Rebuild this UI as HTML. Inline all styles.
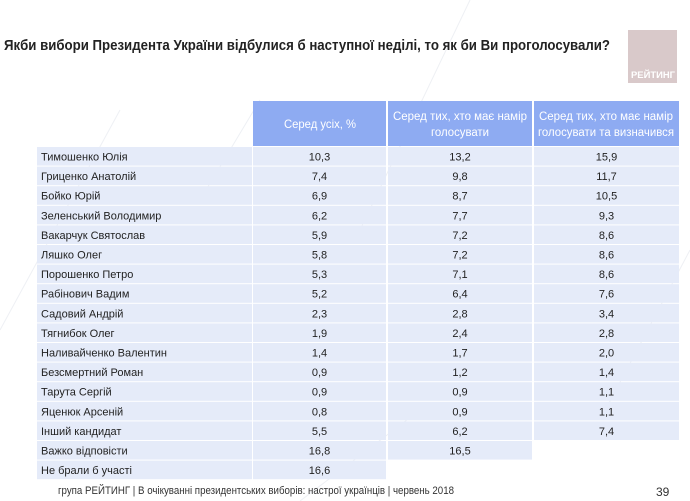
<!DOCTYPE html>
<html><head><meta charset="utf-8"><style>
html,body{margin:0;padding:0;background:#fff;}
svg{display:block}
text{font-family:"Liberation Sans",sans-serif;}
</style></head><body>
<svg width="690" height="501" xmlns="http://www.w3.org/2000/svg">
<rect width="690" height="501" fill="#fff"/>
<g stroke="#eef0f4" stroke-width="1" fill="none">
<line x1="0" y1="330" x2="120" y2="110"/><line x1="200" y1="200" x2="260" y2="100"/><line x1="360" y1="230" x2="470" y2="0"/><line x1="600" y1="420" x2="690" y2="250"/><line x1="300" y1="501" x2="420" y2="410"/>
</g>
<text x="4" y="50" font-size="14.5" font-weight="bold" fill="#222" textLength="606" lengthAdjust="spacingAndGlyphs">Якби вибори Президента України відбулися б наступної неділі, то як би Ви проголосували?</text>
<rect x="628" y="30" width="49" height="53" fill="#d9c9ca"/>
<text x="631" y="78" font-size="9" font-weight="bold" fill="#fff" textLength="44" lengthAdjust="spacingAndGlyphs">РЕЙТИНГ</text>
<g fill="#8eabf2">
<rect x="253" y="101" width="133" height="45"/>
<rect x="388" y="101" width="144" height="45"/>
<rect x="534" y="101" width="145" height="45"/>
</g>
<g fill="#fff" font-size="11.5" text-anchor="middle">
<text x="320" y="128" textLength="72" lengthAdjust="spacingAndGlyphs">Серед усіх, %</text>
<text x="460" y="120" textLength="134" lengthAdjust="spacingAndGlyphs">Серед тих, хто має намір</text>
<text x="460" y="136" textLength="58" lengthAdjust="spacingAndGlyphs">голосувати</text>
<text x="606" y="120" textLength="134" lengthAdjust="spacingAndGlyphs">Серед тих, хто має намір</text>
<text x="606" y="136" textLength="136" lengthAdjust="spacingAndGlyphs">голосувати та визначився</text>
</g>
<g id="rows" font-size="11" fill="#222"></g>
<text x="58" y="494" font-size="11" fill="#333" textLength="396" lengthAdjust="spacingAndGlyphs">група РЕЙТИНГ  | В очікуванні президентських виборів: настрої українців |  червень 2018</text>
<text x="656" y="496" font-size="12" fill="#333">39</text>
</svg>
<script>
var d=[["Тимошенко Юлія","10,3","13,2","15,9"],["Гриценко Анатолій","7,4","9,8","11,7"],["Бойко Юрій","6,9","8,7","10,5"],["Зеленський Володимир","6,2","7,7","9,3"],["Вакарчук Святослав","5,9","7,2","8,6"],["Ляшко Олег","5,8","7,2","8,6"],["Порошенко Петро","5,3","7,1","8,6"],["Рабінович Вадим","5,2","6,4","7,6"],["Садовий Андрій","2,3","2,8","3,4"],["Тягнибок Олег","1,9","2,4","2,8"],["Наливайченко Валентин","1,4","1,7","2,0"],["Безсмертний Роман","0,9","1,2","1,4"],["Тарута Сергій","0,9","0,9","1,1"],["Яценюк Арсеній","0,8","0,9","1,1"],["Інший кандидат","5,5","6,2","7,4"],["Важко відповісти","16,8","16,5",""],["Не брали б участі","16,6","",""]];
var cols=[[37,215],[253,133],[388,144],[534,145]],g=document.getElementById("rows"),h="";
d.forEach(function(r,i){var y=147+i*19.6;
r.forEach(function(v,j){ if(j>0&&v==="")return; var c=cols[j];
h+='<rect x="'+c[0]+'" y="'+y.toFixed(1)+'" width="'+c[1]+'" height="18.6" fill="#e5ebf9"/>';
if(j==0)h+='<text x="41" y="'+(y+13.5).toFixed(1)+'">'+v+'</text>';
else h+='<text x="'+(c[0]+c[1]/2)+'" y="'+(y+13.5).toFixed(1)+'" text-anchor="middle">'+v+'</text>';});});
g.innerHTML=h;
</script>
</body></html>
